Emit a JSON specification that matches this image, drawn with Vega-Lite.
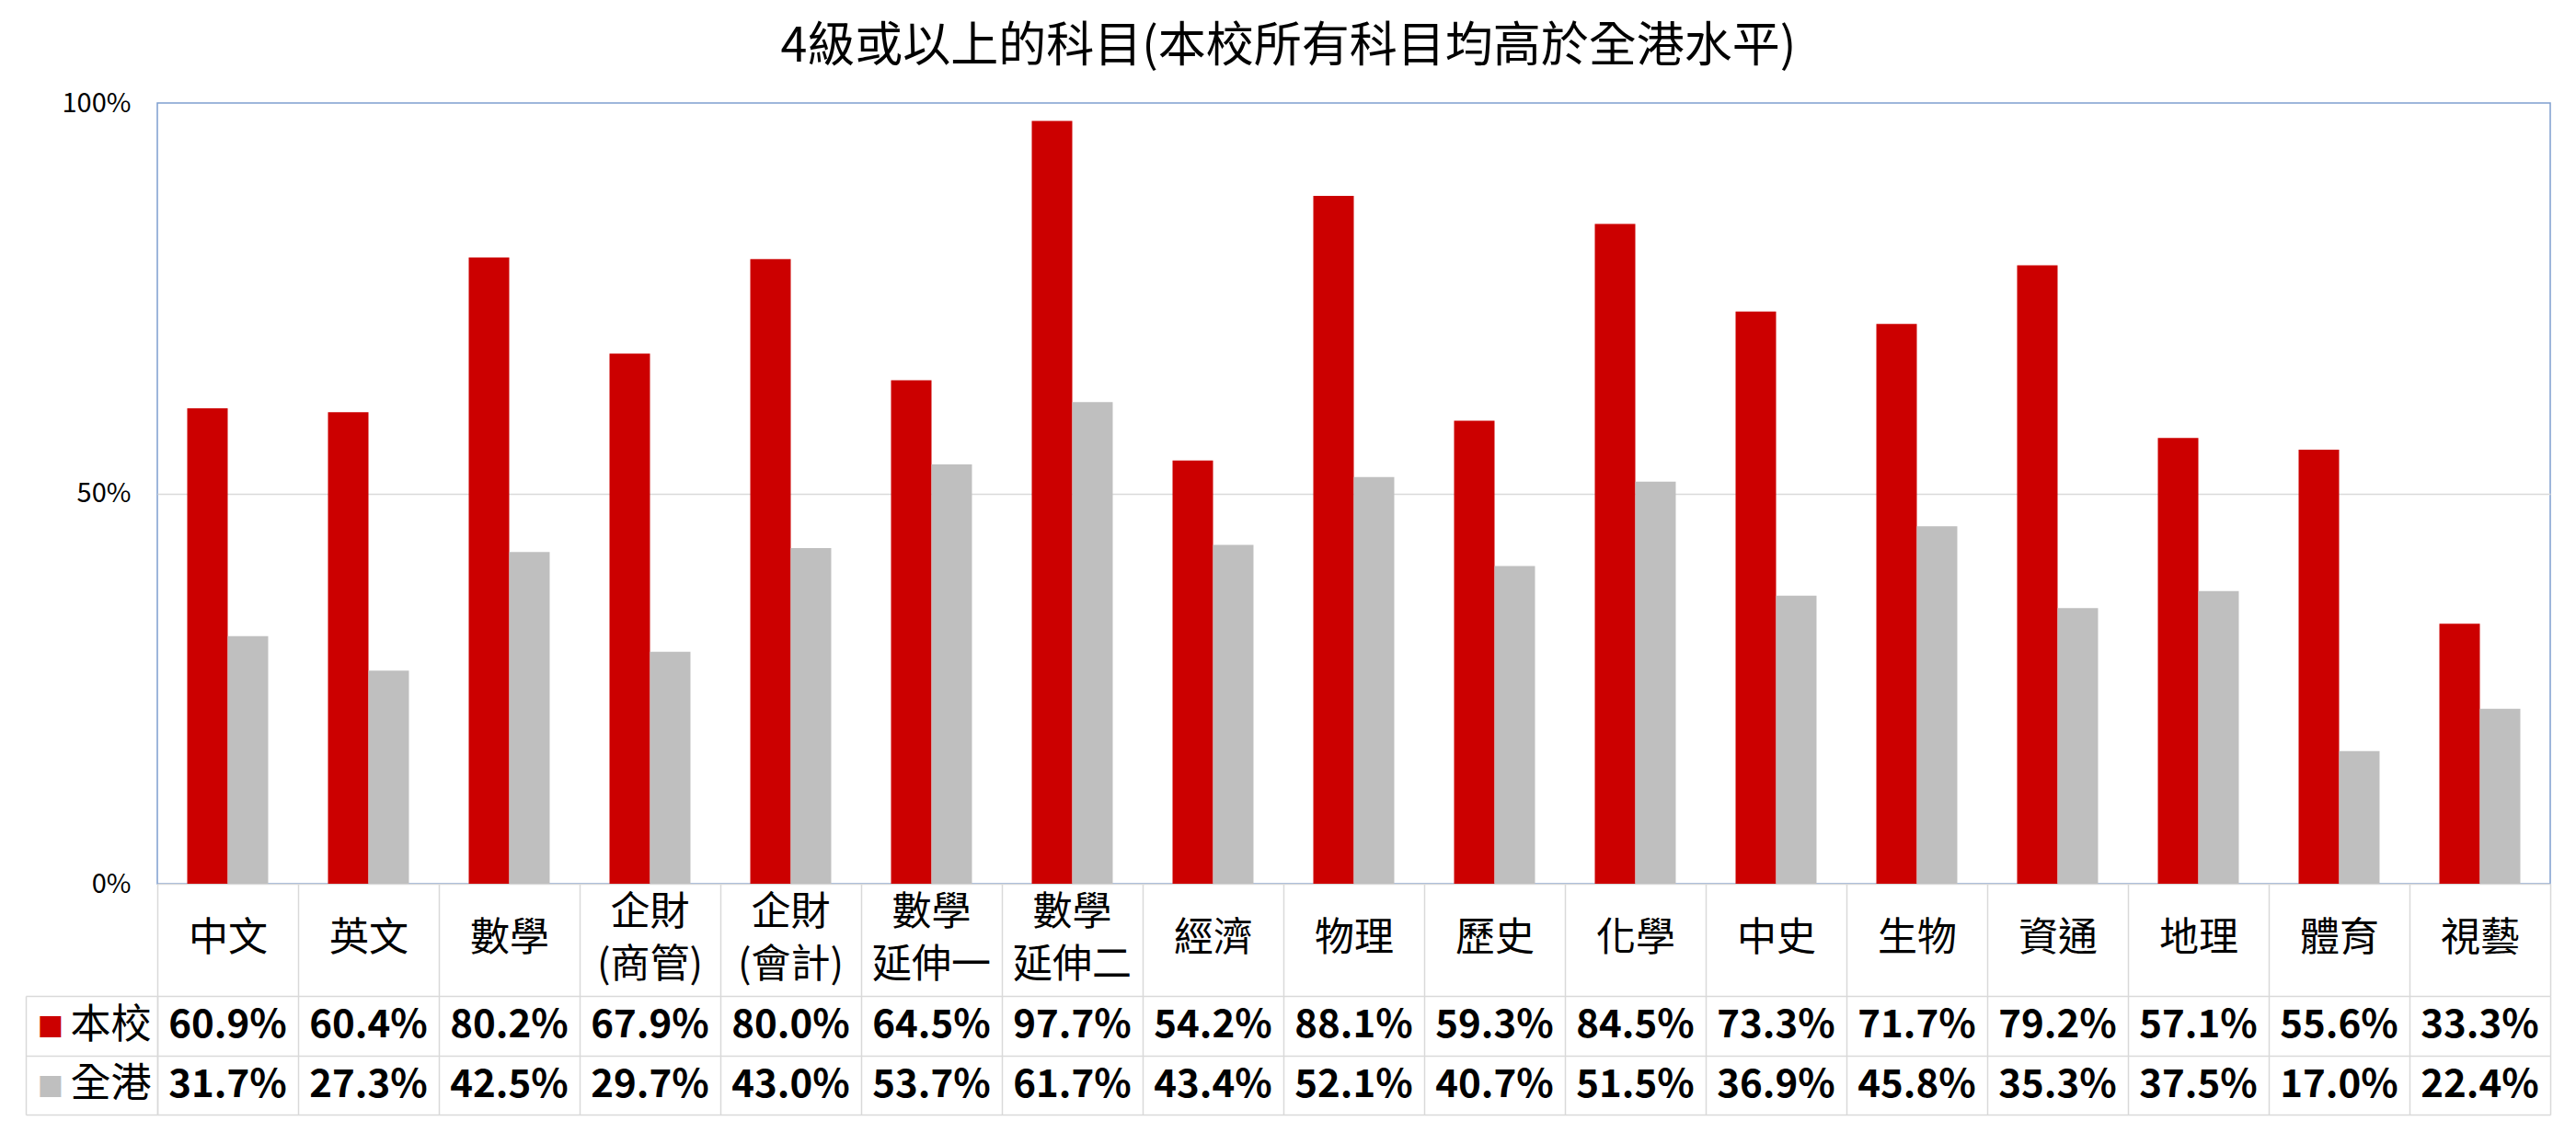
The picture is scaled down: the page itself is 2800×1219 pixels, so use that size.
{
  "$schema": "https://vega.github.io/schema/vega-lite/v6.json",
  "padding": {"left": 27, "top": 25, "right": 10, "bottom": 5},
  "background": "white",
  "title": {"text": "4級或以上的科目(本校所有科目均高於全港水平)", "fontSize": 52, "font": "Noto Sans CJK TC", "fontWeight": "normal", "color": "#000000", "anchor": "middle", "offset": 19},
  "config": {"font": "Noto Sans CJK TC", "view": {"stroke": null}},
  "datasets": {
    "scores": [
      {"subject": "中文", "series": "本校", "value": 0.609}, {"subject": "中文", "series": "全港", "value": 0.317},
      {"subject": "英文", "series": "本校", "value": 0.604}, {"subject": "英文", "series": "全港", "value": 0.273},
      {"subject": "數學", "series": "本校", "value": 0.802}, {"subject": "數學", "series": "全港", "value": 0.425},
      {"subject": "企財(商管)", "series": "本校", "value": 0.679}, {"subject": "企財(商管)", "series": "全港", "value": 0.297},
      {"subject": "企財(會計)", "series": "本校", "value": 0.800}, {"subject": "企財(會計)", "series": "全港", "value": 0.430},
      {"subject": "數學延伸一", "series": "本校", "value": 0.645}, {"subject": "數學延伸一", "series": "全港", "value": 0.537},
      {"subject": "數學延伸二", "series": "本校", "value": 0.977}, {"subject": "數學延伸二", "series": "全港", "value": 0.617},
      {"subject": "經濟", "series": "本校", "value": 0.542}, {"subject": "經濟", "series": "全港", "value": 0.434},
      {"subject": "物理", "series": "本校", "value": 0.881}, {"subject": "物理", "series": "全港", "value": 0.521},
      {"subject": "歷史", "series": "本校", "value": 0.593}, {"subject": "歷史", "series": "全港", "value": 0.407},
      {"subject": "化學", "series": "本校", "value": 0.845}, {"subject": "化學", "series": "全港", "value": 0.515},
      {"subject": "中史", "series": "本校", "value": 0.733}, {"subject": "中史", "series": "全港", "value": 0.369},
      {"subject": "生物", "series": "本校", "value": 0.717}, {"subject": "生物", "series": "全港", "value": 0.458},
      {"subject": "資通", "series": "本校", "value": 0.792}, {"subject": "資通", "series": "全港", "value": 0.353},
      {"subject": "地理", "series": "本校", "value": 0.571}, {"subject": "地理", "series": "全港", "value": 0.375},
      {"subject": "體育", "series": "本校", "value": 0.556}, {"subject": "體育", "series": "全港", "value": 0.170},
      {"subject": "視藝", "series": "本校", "value": 0.333}, {"subject": "視藝", "series": "全港", "value": 0.224}
    ]
  },
  "vconcat": [
    {
      "width": 2601,
      "height": 849,
      "data": {"name": "scores"},
      "view": {"stroke": "#7f9fcf", "strokeWidth": 1.5},
      "layer": [
        {
          "mark": {"type": "bar"},
          "encoding": {
            "x": {
              "field": "subject", "type": "nominal", "sort": null,
              "scale": {"type": "band", "paddingInner": 0, "paddingOuter": 0},
              "axis": {
                "orient": "bottom", "title": null, "labelAngle": 0, "labelFontSize": 43, "labelColor": "#000000",
                "labelPadding": -63, "labelBaseline": "middle",
                "labelExpr": "length(datum.label) > 2 ? '' : datum.label",
                "labelOverlap": false, "labelLimit": 0,
                "tickBand": "extent", "tickSize": 122, "tickColor": "#d9d9d9", "tickWidth": 1.5,
                "domainColor": "#d9d9d9", "domainWidth": 1.5, "grid": false
              }
            },
            "xOffset": {"field": "series", "type": "nominal", "sort": ["本校", "全港"], "scale": {"paddingInner": 0, "paddingOuter": 0.739}},
            "y": {
              "field": "value", "type": "quantitative", "scale": {"domain": [0, 1]},
              "axis": {
                "values": [0, 0.5, 1], "format": ".0%", "domain": false, "ticks": false, "labelPadding": 29,
                "labelFontSize": 29, "labelColor": "#000000", "title": null,
                "grid": true, "gridColor": "#d9d9d9", "gridWidth": 1.5,
                "gridOpacity": {"condition": {"test": "datum.value === 0.5", "value": 1}, "value": 0}
              }
            },
            "color": {"field": "series", "type": "nominal", "scale": {"domain": ["本校", "全港"], "range": ["#cc0000", "#bfbfbf"]}, "legend": null}
          }
        },
        {
          "mark": {"type": "text", "opacity": 0},
          "encoding": {
            "x": {
              "field": "subject", "type": "nominal", "sort": null,
              "scale": {"type": "band", "paddingInner": 0, "paddingOuter": 0},
              "axis": {
                "orient": "bottom", "title": null, "labelAngle": 0, "labelFontSize": 43, "labelColor": "#000000",
                "ticks": false, "tickSize": 0, "domain": false, "grid": false,
                "labelPadding": 10, "labelBaseline": "top", "labelLineHeight": 57,
                "labelExpr": "length(datum.label) > 2 ? [substring(datum.label, 0, 2), substring(datum.label, 2)] : ''",
                "labelOverlap": false, "labelLimit": 0
              }
            },
            "text": {"value": ""}
          }
        }
      ],
      "resolve": {"scale": {"x": "independent"}, "axis": {"x": "independent"}}
    },
    {
      "width": 2601,
      "height": 129,
      "data": {"name": "scores"},
      "layer": [
        {
          "mark": {"type": "text", "fontSize": 42, "fontWeight": "bold", "color": "#000000"},
          "encoding": {
            "x": {
              "field": "subject", "type": "nominal", "sort": null,
              "scale": {"type": "band", "paddingInner": 0, "paddingOuter": 0},
              "axis": {"orient": "bottom", "title": null, "labels": false, "ticks": false, "domain": false, "grid": true, "gridColor": "#d9d9d9", "gridWidth": 1.5, "tickBand": "extent"}
            },
            "y": {
              "field": "series", "type": "nominal", "sort": ["本校", "全港"],
              "scale": {"type": "band", "paddingInner": 0, "paddingOuter": 0},
              "axis": {
                "orient": "left", "title": null, "grid": true, "gridColor": "#d9d9d9", "gridWidth": 1.5,
                "tickBand": "extent", "tickSize": 143, "tickColor": "#d9d9d9", "tickWidth": 1.5,
                "domain": true, "domainColor": "#d9d9d9", "domainWidth": 1.5,
                "labelPadding": -136, "labelFontSize": 44, "labelColor": "#000000"
              }
            },
            "text": {"field": "value", "type": "quantitative", "format": ".1%"}
          }
        },
        {
          "mark": {"type": "text", "opacity": 0},
          "encoding": {
            "y": {
              "field": "series", "type": "nominal", "sort": ["本校", "全港"],
              "scale": {"type": "band", "paddingInner": 0, "paddingOuter": 0},
              "axis": {
                "orient": "left", "offset": 143, "title": null, "grid": false, "ticks": false, "tickSize": 0,
                "domain": true, "domainColor": "#d9d9d9", "domainWidth": 1.5,
                "labelExpr": "'■'", "labelAlign": "left", "labelPadding": -12, "labelFontSize": 30, "labelFont": "DejaVu Sans",
                "labelColor": {"condition": {"test": "datum.value === '本校'", "value": "#cc0000"}, "value": "#bfbfbf"}
              }
            },
            "text": {"value": ""}
          }
        }
      ],
      "resolve": {"scale": {"y": "independent"}, "axis": {"y": "independent"}}
    }
  ],
  "spacing": 122,
  "bounds": "flush"
}
